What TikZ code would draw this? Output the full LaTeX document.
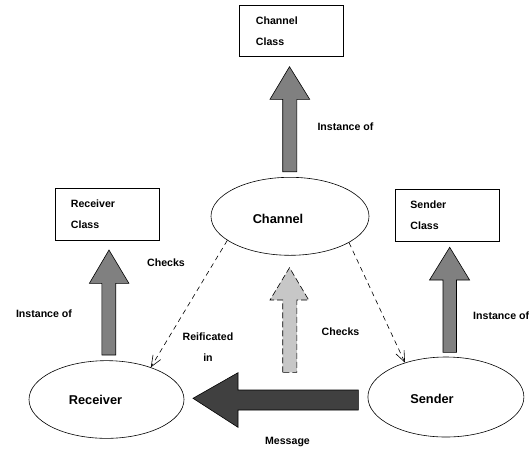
\documentclass[tikz,border=0pt]{standalone}
\usepackage{fontspec}
\setmainfont{Liberation Sans}
\usetikzlibrary{shapes.geometric,arrows.meta}
\begin{document}
\begin{tikzpicture}[x=1pt,y=-1pt,
  lbl/.style={font=\fontsize{10.6}{21}\selectfont\bfseries, inner sep=0pt},
  elltext/.style={font=\fontsize{12.8}{14}\selectfont\bfseries},
  cbox/.style={draw, line width=0.6pt, rectangle, minimum width=104pt, minimum height=51.5pt, inner sep=0pt},
  ell/.style={draw, line width=0.6pt, ellipse, inner sep=0pt},
  blockarrow/.style={draw, line width=0.6pt, fill=black!50},
  dashconn/.style={draw, line width=0.6pt, dash pattern=on 5pt off 4pt, -{Straight Barb[length=11pt,width=9pt]}}
]
\useasboundingbox (0,0) rectangle (529,451);

% class boxes
\node[cbox] (cc) at (291,31) {};
\node[lbl, anchor=west, align=left] (cct) at ([xshift=17pt]cc.west) {Channel\\Class};
\node[cbox] (rc) at (107,214.2) {};
\node[lbl, anchor=west, align=left] (rct) at ([xshift=16pt]rc.west) {Receiver\\Class};
\node[cbox] (sc) at (447,215.5) {};
\node[lbl, anchor=west, align=left] (sct) at ([xshift=15.5pt]sc.west) {Sender\\Class};

% ellipses
\node[ell, minimum width=158pt, minimum height=78pt] (ch) at (290,216.3) {};
\node[elltext] (cht) at (278,219) {Channel};
\node[ell, minimum width=155pt, minimum height=77.7pt] (rec) at (106.5,399.5) {};
\node[elltext] (rect) at (95.5,400) {Receiver};
\node[ell, minimum width=156pt, minimum height=80pt] (snd) at (445.9,397) {};
\node[elltext] (sndt) at (432,398.5) {Sender};

% block arrows (instance of)
\path[blockarrow] (282.7,171.7) -- (282.7,99.3) -- (270,99.3) -- (289.5,66.7) -- (309.7,99.3) -- (296.9,99.3) -- (296.9,171.7) -- cycle;
\path[blockarrow] (101.9,355) -- (101.9,283.3) -- (89.4,283.3) -- (109,250) -- (128.9,283.3) -- (115.7,283.3) -- (115.7,355) -- cycle;
\path[blockarrow] (443,352.3) -- (443,280) -- (429.5,280) -- (449.7,247.3) -- (469.6,280) -- (456.5,280) -- (456.5,352.3) -- cycle;

% light checks arrow
\path[draw, line width=0.6pt, dash pattern=on 6pt off 3pt, fill=black!22] (282.7,372.3) -- (282.7,300) -- (270,300) -- (289.5,267.7) -- (308.7,300) -- (296.9,300) -- (296.9,372.3) -- cycle;

% message arrow
\path[draw, line width=0.6pt, fill=black!75] (358.3,390) -- (238,390) -- (238,372.7) -- (193,398.3) -- (238,427.3) -- (238,410) -- (358.3,410) -- cycle;

% dashed connectors
\draw[dashconn] (ch.201) -- (rec.36);
\draw[dashconn] (ch.336) -- (snd.140.6);

% labels
\node[lbl] (io1) at (345.5,127) {Instance of};
\node[lbl] (io2) at (44,313.3) {Instance of};
\node[lbl, anchor=west] (io3) at (473,315.5) {Instance of};
\node[lbl] (chk1) at (166,262.3) {Checks};
\node[lbl] (chk2) at (340.5,331.7) {Checks};
\node[lbl] (reif) at (208,336.7) {Reificated};
\node[lbl] (reifin) at (208,357.3) {in};
\node[lbl] (msg) at (287.5,441.7) {Message};
\end{tikzpicture}
\end{document}
